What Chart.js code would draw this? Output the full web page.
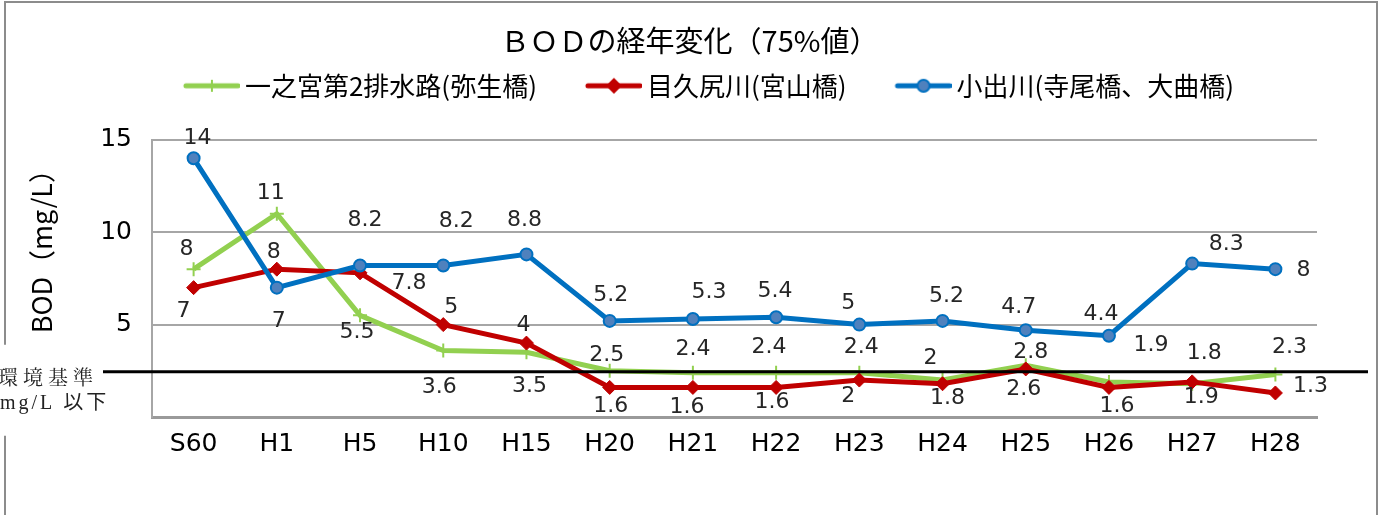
<!DOCTYPE html>
<html><head><meta charset="utf-8">
<script src="https://cdn.jsdelivr.net/npm/chart.js@4"></script>
<style>html,body{margin:0;padding:0;background:#fff;overflow:hidden}#wrap{width:1379px;height:515px}</style>
</head><body><div id="wrap"><canvas id="c" width="1379" height="515"></canvas></div>
<script>
// ---- data ----
const categories = ['S60','H1','H5','H10','H15','H20','H21','H22','H23','H24','H25','H26','H27','H28'];
const seriesNames = ['一之宮第2排水路(弥生橋)','目久尻川(宮山橋)','小出川(寺尾橋、大曲橋)'];
const ichinomiya = [8, 11, 5.5, 3.6, 3.5, 2.5, 2.4, 2.4, 2.4, 2, 2.8, 1.9, 1.8, 2.3];
const mekujiri   = [7, 8, 7.8, 5, 4, 1.6, 1.6, 1.6, 2, 1.8, 2.6, 1.6, 1.9, 1.3];
const koide      = [14, 7, 8.2, 8.2, 8.8, 5.2, 5.3, 5.4, 5, 5.2, 4.7, 4.4, 8.3, 8];
const yMin = 0, yMax = 15, yStep = 5;
const standardLevel = 2.45;
const titleText = 'ＢＯＤの経年変化（75%値）';
const yTitle = 'BOD（mg/L）';
const standardText1 = '環境基準';
const standardText2 = 'mg/L 以下';

// ---- label placement (relative offsets, px) ----
const greenLabelOff = [[-7,-20],[-6,-20],[-3,17],[-4,37],[3,34],[-3,-16],[0,-23],[-7,-25],[2,-25],[-12,-22],[5,-13],[42,-37],[12,-30],[14,-27]];
const redLabelOff   = [[-10,24],[-3,-17],[49,10],[8,-17],[-3,-18],[1,19],[-6,20],[-4,15],[-11,16],[5,15],[-2,20],[8,19],[9,15],[35,-7]];
const blueLabelOff  = [[4,-20],[2,34],[5,-45],[13,-44],[-2,-34],[1,-26],[16,-27],[-1,-26],[-11,-21],[4,-25],[-7,-23],[-8,-21],[34,-19],[28,1]];
const labelOffsets = [greenLabelOff, redLabelOff, blueLabelOff];

const CJK = '"Noto Sans CJK JP", sans-serif';
const NUM = '"DejaVu Sans", sans-serif';
const GREEN = '#92D050', RED = '#C00000', BLUE = '#0070C0', BLUE_FILL = '#4F81BD';

function legendImage(color, kind, fill) {
  const c = document.createElement('canvas');
  c.width = 103; c.height = 22;
  const g = c.getContext('2d');
  g.strokeStyle = color; g.lineWidth = 5; g.lineCap = 'round';
  g.beginPath(); g.moveTo(49, 11); g.lineTo(101, 11); g.stroke();
  const cx = 75, cy = 11;
  if (kind === 'cross') {
    g.lineWidth = 2; g.lineCap = 'butt';
    g.beginPath(); g.moveTo(cx-6, cy); g.lineTo(cx+6, cy); g.moveTo(cx, cy-6); g.lineTo(cx, cy+6); g.stroke();
  } else if (kind === 'diamond') {
    g.fillStyle = color; g.beginPath();
    g.moveTo(cx, cy-8); g.lineTo(cx+8, cy); g.lineTo(cx, cy+8); g.lineTo(cx-8, cy); g.closePath(); g.fill();
  } else {
    g.fillStyle = fill; g.lineWidth = 2; g.beginPath(); g.arc(cx, cy, 6, 0, Math.PI*2); g.fill(); g.stroke();
  }
  return c;
}
const legendImages = [legendImage(GREEN,'cross'), legendImage(RED,'diamond'), legendImage(BLUE,'circle',BLUE_FILL)];

const framePlugin = {
  id: 'frame',
  beforeDraw(chart) {
    const ctx = chart.ctx;
    ctx.save(); ctx.fillStyle = '#fff'; ctx.fillRect(0, 0, chart.width, chart.height); ctx.restore();
  },
  afterDraw(chart) {
    const ctx = chart.ctx;
    const yy = chart.scales.y.getPixelForValue(standardLevel);
    ctx.save();
    ctx.strokeStyle = '#8c8c8c'; ctx.lineWidth = 2;
    ctx.beginPath();
    ctx.moveTo(5, yy - 27); ctx.lineTo(5, 2); ctx.lineTo(1377, 2); ctx.lineTo(1377, chart.height);
    ctx.moveTo(5, yy + 64); ctx.lineTo(5, chart.height);
    ctx.stroke();
    ctx.fillStyle = '#222'; ctx.textAlign = 'left'; ctx.textBaseline = 'middle';
    ctx.font = '20px "Noto Serif CJK JP", ' + CJK;
    ctx.letterSpacing = '5px';
    ctx.fillText(standardText1, -2, yy + 6);
    ctx.font = '20px "Liberation Serif", ' + CJK;
    ctx.letterSpacing = '3px';
    ctx.fillText(standardText2, 0, yy + 32);
    ctx.letterSpacing = '0px';
    ctx.restore();
  }
};

const labelPlugin = {
  id: 'pointLabels',
  afterDatasetsDraw(chart) {
    const ctx = chart.ctx;
    const area = chart.chartArea;
    const yy = chart.scales.y.getPixelForValue(standardLevel);
    ctx.save();
    ctx.strokeStyle = '#000'; ctx.lineWidth = 3;
    ctx.beginPath(); ctx.moveTo(area.left - 49, yy); ctx.lineTo(area.right + 51, yy); ctx.stroke();
    ctx.font = '22px ' + NUM; ctx.fillStyle = '#262626';
    ctx.textAlign = 'center'; ctx.textBaseline = 'middle';
    chart.data.datasets.forEach((ds, i) => {
      const meta = chart.getDatasetMeta(i);
      meta.data.forEach((pt, j) => {
        const off = labelOffsets[i][j];
        ctx.fillText(String(ds.data[j]), pt.x + off[0], pt.y + off[1]);
      });
    });
    ctx.restore();
  }
};

new Chart(document.getElementById('c'), {
  type: 'line',
  data: {
    labels: categories,
    datasets: [
      { label: seriesNames[0], data: ichinomiya, borderColor: GREEN, backgroundColor: GREEN, borderWidth: 5,
        pointStyle: 'cross', pointRadius: 7, pointBorderWidth: 2, pointBorderColor: GREEN, tension: 0, order: 3 },
      { label: seriesNames[1], data: mekujiri, borderColor: RED, backgroundColor: RED, borderWidth: 5,
        pointStyle: 'rectRot', pointRadius: 7, pointBorderWidth: 1, pointBackgroundColor: RED, pointBorderColor: RED, tension: 0, order: 2 },
      { label: seriesNames[2], data: koide, borderColor: BLUE, backgroundColor: BLUE_FILL, borderWidth: 5,
        pointStyle: 'circle', pointRadius: 6, pointBorderWidth: 2, pointBackgroundColor: BLUE_FILL, pointBorderColor: BLUE, tension: 0, order: 1 }
    ]
  },
  options: {
    responsive: false, animation: false, devicePixelRatio: 1,
    layout: { padding: 0 },
    plugins: {
      tooltip: { enabled: false },
      title: { display: true, text: titleText, color: '#000', font: { family: CJK, size: 29, weight: 'normal' },
               padding: { top: 24, bottom: 4 } },
      subtitle: { display: true, text: ' ', weight: 500, font: { size: 10, lineHeight: 1 }, padding: { top: 0, bottom: 21 } },
      legend: {
        display: true, position: 'top', weight: 1000,
        labels: {
          usePointStyle: true, pointStyleWidth: 87, boxHeight: 26, padding: 10, color: '#000',
          font: { family: CJK, size: 26 },
          generateLabels(chart) {
            return chart.data.datasets.map((ds, i) => ({
              text: ds.label, pointStyle: legendImages[i], fillStyle: ds.borderColor, strokeStyle: ds.borderColor,
              lineWidth: 0, hidden: false, datasetIndex: i, fontColor: '#000'
            }));
          }
        }
      }
    },
    scales: {
      x: {
        offset: true,
        grid: { display: false, drawTicks: false },
        border: { display: true, color: '#9a9a9a', width: 3 },
        ticks: { color: '#000', font: { family: NUM, size: 25 }, padding: 12, maxRotation: 0, autoSkip: false },
        afterFit(axis) { axis.height = 98; }
      },
      y: {
        min: yMin, max: yMax,
        grid: { color: '#a6a6a6', lineWidth: 2, drawTicks: false },
        border: { display: true, color: '#a6a6a6', width: 2 },
        ticks: { stepSize: yStep, color: '#000', font: { family: NUM, size: 25 }, padding: 20,
                 callback: v => (v === 0 ? '' : v) },
        title: { display: true, text: '\u3000\u3000\u2002' + yTitle, color: '#000', font: { family: CJK, size: 27 },
                 padding: { top: 26, bottom: 0 } },
        afterFit(axis) { axis.width = 152; }
      },
      y2: {
        type: 'linear', position: 'right', display: true,
        grid: { display: false, drawTicks: false }, border: { display: false }, ticks: { display: false },
        afterFit(axis) { axis.width = 62; }
      }
    }
  },
  plugins: [framePlugin, labelPlugin]
});
</script></body></html>
